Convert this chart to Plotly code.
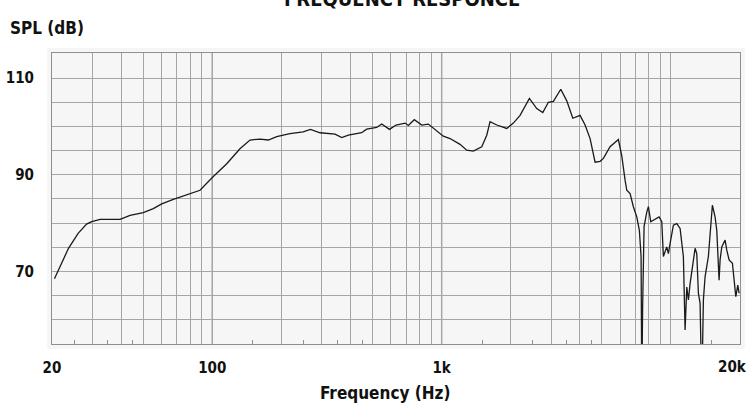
import plotly.graph_objects as go

# ---- data ----
freq_hz = [20.5, 23.6, 26.0, 28.3, 29.8, 32.4, 35.8, 39.6, 43.8, 50, 55.3, 60.2, 67.6, 80, 88.4,
           100, 115.6, 132, 146, 161.5, 175.5, 191, 218, 249, 268, 295, 343, 367, 392, 448,
           471, 521, 548, 592, 633, 693, 716, 760, 819, 875, 952, 1017, 1088, 1203, 1287,
           1375, 1496, 1573, 1626, 1740, 1923, 2055, 2198, 2414, 2599, 2761, 2920, 3071, 3308,
           3513, 3732, 4015, 4222, 4440, 4668, 4910, 5074, 5426, 5898, 6102, 6308, 6418, 6634,
           6856, 7094, 7282, 7408, 7462, 7520, 7582, 7634, 7844, 7972, 8164, 8526, 8874, 9118,
           9268, 9588, 9746, 9914, 10246, 10602, 10960, 11328, 11442, 11524, 11722, 11914,
           12118, 12326, 12742, 12956, 13172, 13398, 13624, 13848, 14084, 14560, 14812, 15156,
           15572, 15840, 16212, 16378, 16656, 17220, 17516, 17928, 18532, 18908, 19176, 19564,
           19822]
spl_db = [68.5, 74.8, 77.9, 79.8, 80.3, 80.8, 80.8, 80.8, 81.6, 82.2, 83.0, 84.0, 84.9, 86.0, 86.8,
          89.45, 92.3, 95.4, 97.2, 97.4, 97.2, 97.9, 98.5, 98.9, 99.4, 98.7, 98.4, 97.7, 98.2, 98.7,
          99.45, 99.8, 100.5, 99.4, 100.3, 100.7, 100.2, 101.4, 100.3, 100.5, 99.2, 98.0, 97.5, 96.3, 95.1,
          94.9, 95.8, 98.2, 101.0, 100.3, 99.6, 100.7, 102.3, 105.8, 103.7, 102.9, 105.0, 105.2, 107.7,
          105.3, 101.7, 102.3, 100.3, 97.5, 92.6, 92.8, 93.4, 95.8, 97.3, 93.9, 88.9, 86.8, 86.1,
          83.4, 81.3, 78.5, 73.1, 45, 62, 71.0, 79.3, 82.3, 83.4, 80.3, 80.8, 81.3, 80.3,
          73.1, 75.1, 73.7, 75.8, 79.6, 79.9, 78.9, 73.1, 62.7, 57.9, 66.8, 64.1,
          67.5, 70.3, 74.8, 73.7, 65.5, 63.4, 45, 64.1, 68.9, 73.1, 77.9, 83.7,
          81.3, 78.5, 68.2, 72.4, 75.1, 76.5, 74.4, 72.4, 71.7, 67.5, 64.8, 67.2,
          65.5]

grid_freqs = [30, 40, 50, 60, 70, 80, 90, 200, 300, 400, 500, 600, 700, 800, 900,
              2000, 3000, 4000, 5000, 6000, 7000, 8000, 9000, 10000]
x_tick_vals = [20, 100, 1000]
x_tick_text = ["20", "100", "1k"]
x_end_label = "20k"
minor_tick_freqs = [25, 35, 45, 150, 250, 350, 450, 1500, 2500, 3500, 4500, 15000]
y_grid_vals = [60, 65, 70, 75, 80, 85, 90, 95, 100, 105, 110]
y_tick_text = ["" if v not in (70, 90, 110) else str(v) for v in y_grid_vals]
dark_grid_freqs = [100, 1000]

FONT = "Liberation Sans Narrow, DejaVu Sans Condensed, Liberation Sans, Arial, sans-serif"
GRID = "#a6a6a6"
TICKSIZE = 15

fig = go.Figure()
fig.add_trace(go.Scatter(x=freq_hz, y=spl_db, mode="lines",
                         line=dict(color="#1a1a1a", width=1.3), hoverinfo="skip",
                         showlegend=False))

shapes = [dict(type="rect", xref="paper", yref="paper", x0=-5/688, x1=1+5/688,
               y0=-5/291, y1=1+5/291, fillcolor="#f6f6f6", line=dict(width=0),
               layer="below")]
for f in dark_grid_freqs:
    shapes.append(dict(type="line", xref="x", yref="paper", x0=f, x1=f, y0=0, y1=1,
                       line=dict(color="#7a7a7a", width=1.3), layer="below"))

fig.update_layout(
    width=749, height=405,
    margin=dict(l=52, r=9, t=53, b=61),
    paper_bgcolor="white", plot_bgcolor="#efefef",
    shapes=shapes,
    font=dict(family=FONT, size=17, color="#111"),
    annotations=[
        dict(text="<b>FREQUENCY RESPONCE</b>", xref="paper", yref="paper",
             x=(402-52)/688, y=1 + (53-13)/291, xanchor="center", yanchor="bottom",
             showarrow=False, font=dict(size=20)),
        dict(text="<b>SPL (dB)</b>", xref="paper", yref="paper",
             x=(8-52)/688, y=1 + (53-28)/291, xanchor="left", yanchor="middle",
             showarrow=False, font=dict(size=17)),
        dict(text="<b>Frequency (Hz)</b>", xref="paper", yref="paper",
             x=(385-52)/688, y=-(393-344)/291, xanchor="center", yanchor="middle",
             showarrow=False, font=dict(size=17)),
        dict(text=f"<b>{x_end_label}</b>", xref="paper", yref="paper",
             x=(749-52)/688, y=-(367-344)/291, xanchor="right", yanchor="middle",
             showarrow=False, font=dict(size=TICKSIZE)),
    ],
)

fig.update_xaxes(
    type="log", range=[1.30103, 4.30103],
    showgrid=True, gridcolor=GRID, gridwidth=1,
    tickmode="array", tickvals=grid_freqs + x_tick_vals,
    ticktext=[""] * len(grid_freqs) + [f"<b>{t}</b>" for t in x_tick_text],
    tickfont=dict(size=TICKSIZE),
    ticks="", showline=True, linecolor="#8f8f8f", linewidth=1, mirror=True,
    ticklabelstandoff=10, automargin=False, ticklabeloverflow="allow",
    minor=dict(tickmode="array", tickvals=minor_tick_freqs, ticks="inside",
               ticklen=4, tickcolor="#8f8f8f", showgrid=False),
    zeroline=False, fixedrange=True,
)
fig.update_yaxes(
    range=[55, 115.2],
    showgrid=True, gridcolor=GRID, gridwidth=1,
    tickmode="array", tickvals=y_grid_vals,
    ticktext=[f"<b>{t}</b>" if t else "" for t in y_tick_text],
    tickfont=dict(size=TICKSIZE),
    ticks="", showline=True, linecolor="#8f8f8f", linewidth=1, mirror=True,
    ticklabelstandoff=14, automargin=False, zeroline=False, fixedrange=True,
)

fig.write_html("out.html", config={"displayModeBar": False},
               post_script="document.body.style.margin='0';")
